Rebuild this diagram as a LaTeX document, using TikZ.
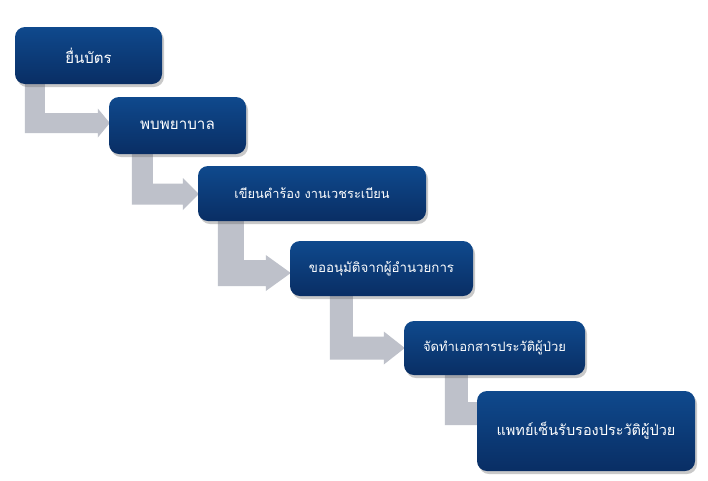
\documentclass[tikz,border=0pt]{standalone}
\usepackage{fontspec}
\newfontfamily\thaifont[Script=Thai]{Loma}
\usetikzlibrary{calc,shadows,backgrounds}
\definecolor{boxtop}{RGB}{15,73,141}
\definecolor{boxbot}{RGB}{9,46,100}
\definecolor{arrowfill}{RGB}{190,193,202}
\newcommand\tf[1]{\thaifont\fontsize{#1}{#1}\selectfont}
\tikzset{
  stepbox/.style={rounded corners=10pt, top color=boxtop, bottom color=boxbot,
    draw=none, text=white, align=center, inner sep=2pt,
    drop shadow={shadow xshift=2pt, shadow yshift=-3pt, opacity=0.35, fill=black!60}},
}
% #1 src, #2 dst, #3 xoffset, #4 width, #5 head half height, #6 head length, #7 dy, #8 tip offset
\newcommand\bentarrow[8]{%
\fill[arrowfill] let \p1=(#1.south west), \p2=(#2.west) in
 ({\x1+#3pt}, {\y1+10pt}) -- ({\x1+#3pt}, {\y2-(#7pt)-#4pt/2}) -- ({\x2+(#8pt)-#6pt}, {\y2-(#7pt)-#4pt/2})
 -- ({\x2+(#8pt)-#6pt}, {\y2-(#7pt)-#5pt}) -- ({\x2+(#8pt)}, {\y2-(#7pt)}) -- ({\x2+(#8pt)-#6pt}, {\y2-(#7pt)+#5pt})
 -- ({\x2+(#8pt)-#6pt}, {\y2-(#7pt)+#4pt/2}) -- ({\x1+#3pt+#4pt}, {\y2-(#7pt)+#4pt/2}) -- ({\x1+#3pt+#4pt}, {\y1+10pt}) -- cycle;}
\begin{document}
\begin{tikzpicture}[x=1pt,y=-1pt]
\useasboundingbox (0,0) rectangle (708,480);
\node[stepbox, minimum width=147pt, minimum height=57pt, font=\tf{15}] (b1) at (88.5,55.5) {ยื่นบัตร};
\node[stepbox, minimum width=137pt, minimum height=57pt, font=\tf{15.2}] (b2) at (177.5,125.5) {พบพยาบาล};
\node[stepbox, minimum width=228pt, minimum height=55pt, font=\tf{12.8}] (b3) at (312,193.5) {เขียนคำร้อง งานเวชระเบียน};
\node[stepbox, minimum width=183pt, minimum height=55pt, font=\tf{13.3}] (b4) at (381.5,268.5) {ขออนุมัติจากผู้อำนวยการ};
\node[stepbox, minimum width=181pt, minimum height=54pt, font=\tf{13}] (b5) at (494.5,348) {จัดทำเอกสารประวัติผู้ป่วย};
\node[stepbox, minimum width=218pt, minimum height=80pt, font=\tf{14.5}] (b6) at (586,431) {แพทย์เซ็นรับรองประวัติผู้ป่วย};
\begin{pgfonlayer}{background}
\fill[white] (0,0) rectangle (708,480);
\bentarrow{b1}{b2}{10}{20}{14.5}{12}{-2.5}{1}
\bentarrow{b2}{b3}{23}{21}{16}{16}{0.5}{1}
\bentarrow{b3}{b4}{20}{26}{18}{25}{4.5}{1}
\bentarrow{b4}{b5}{40}{23}{16.5}{21}{0}{1}
\bentarrow{b5}{b6}{41}{23}{16}{20}{-17.5}{30}
\end{pgfonlayer}
\end{tikzpicture}
\end{document}
